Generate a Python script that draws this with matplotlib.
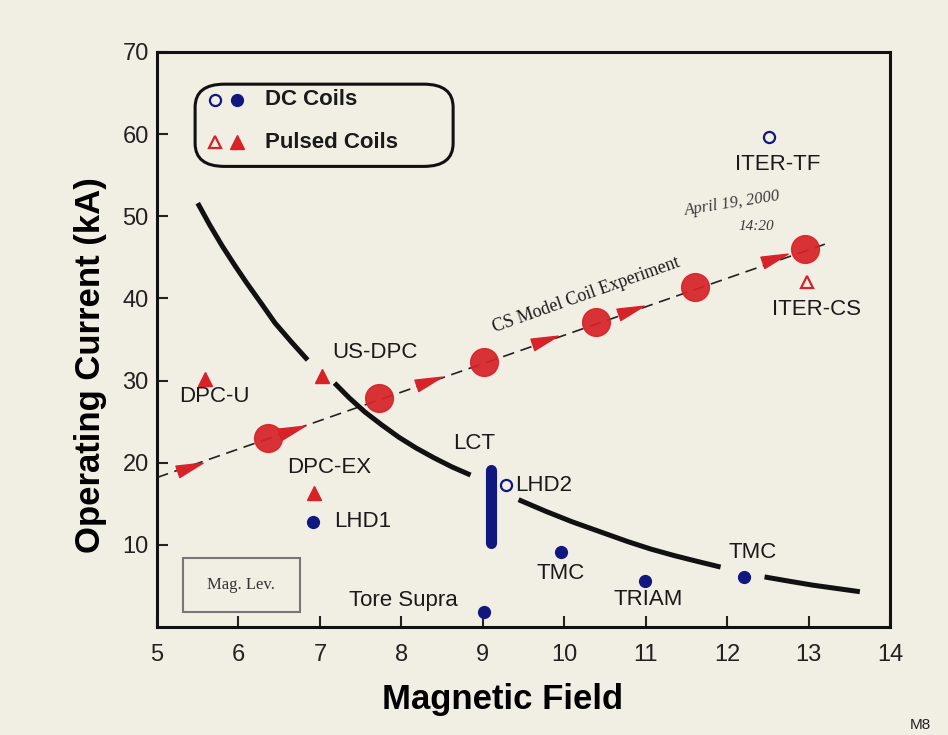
import numpy as np
import matplotlib
matplotlib.use("Agg")
import matplotlib.pyplot as plt
from matplotlib.path import Path
from matplotlib.patches import FancyBboxPatch, Rectangle

# ---------------- data ----------------
# DC coils (filled)
dc_names = ["LHD1", "Tore Supra", "TMC", "TRIAM", "TMC"]
dc_B = [6.91, 9.01, 9.96, 10.99, 12.21]
dc_I = [12.8, 1.8, 9.1, 5.6, 6.1]
# DC coils (open)
dco_names = ["LHD2", "ITER-TF"]
dco_B = [9.28, 12.51]
dco_I = [17.3, 59.7]
# LCT range (vertical bar)
lct_B = [9.10, 9.10]
lct_I = [10.2, 19.1]
# Pulsed coils (filled)
pc_names = ["DPC-U", "US-DPC", "DPC-EX"]
pc_B = [5.59, 7.02, 6.93]
pc_I = [30.2, 30.5, 16.3]
# Pulsed coils (open)
pco_names = ["ITER-CS"]
pco_B = [12.98]
pco_I = [42.0]
# CS Model Coil Experiment
cs_line_B = [5.0, 13.2]
cs_line_I = [18.2, 46.6]
cs_circ_B = [6.36, 7.73, 9.01, 10.39, 11.60, 12.96]
cs_circ_I = [23.0, 27.9, 32.3, 37.1, 41.4, 46.0]
cs_arrow_B = [5.40, 6.66, 8.34, 9.77, 10.82, 12.59]
cs_arrow_I = [19.5, 24.0, 30.0, 34.9, 38.6, 44.9]
# black limit curve (segments separated by NaN)
curve_B = [5.50, 5.65, 5.80, 5.95, 6.10, 6.28, 6.45, 6.65, 6.85, np.nan,
           7.18, 7.36, 7.55, 7.76, 7.97, 8.18, 8.40, 8.62, 8.85, np.nan,
           9.44, 9.77, 10.10, 10.44, 10.78, 11.06, 11.35, 11.63, 11.92, np.nan,
           12.46, 12.75, 13.05, 13.34, 13.63]
curve_I = [51.6, 48.9, 46.4, 44.1, 41.9, 39.4, 37.0, 34.7, 32.5, np.nan,
           29.7, 27.9, 26.2, 24.6, 23.1, 21.8, 20.6, 19.5, 18.5, np.nan,
           15.5, 14.1, 12.8, 11.6, 10.4, 9.5, 8.7, 8.0, 7.3, np.nan,
           6.1, 5.6, 5.1, 4.7, 4.3]

x_ticks = [5, 6, 7, 8, 9, 10, 11, 12, 13, 14]
y_ticks = [10, 20, 30, 40, 50, 60, 70]

# ---------------- style ----------------
BG = "#f1eee4"
BLUE = "#101880"
RED = "#d62228"
FONT = ["Liberation Sans", "DejaVu Sans"]
SERIF = ["Liberation Serif", "DejaVu Serif"]

plt.rcParams["font.family"] = FONT

fig = plt.figure(figsize=(9.48, 7.35), dpi=100, facecolor=BG)
ax = fig.add_axes([0.1656, 0.1469, 0.7732, 0.7824], facecolor=BG)
ax.set_xlim(5, 14)
ax.set_ylim(0, 70)

for s in ax.spines.values():
    s.set_linewidth(2.2)
    s.set_color("#111111")

ax.set_xticks(x_ticks)
ax.set_yticks(y_ticks)
ax.tick_params(axis="both", direction="in", length=8, width=1.5,
               labelsize=17, color="#222222", labelcolor="#222222", pad=12)
ax.tick_params(axis="y", pad=6)

ax.set_xlabel("Magnetic Field", fontsize=25, fontweight="bold")
ax.xaxis.set_label_coords(0.472, -0.098)
ax.set_ylabel("Operating Current (kA)", fontsize=25, fontweight="bold")
ax.yaxis.set_label_coords(-0.068, 0.455)

# black curve
ax.plot(curve_B, curve_I, color="#111111", lw=3.6, solid_capstyle="butt",
        solid_joinstyle="round", zorder=3)

# CS model coil experiment dashed line
ax.plot(cs_line_B, cs_line_I, color="#222222", lw=1.2, ls=(0, (7, 4)), zorder=2)

# arrow marker (rotated along the line)
ang = np.deg2rad(19.0)
base = np.array([[-1.0, -0.45], [1.0, 0.0], [-1.0, 0.45], [-1.0, -0.45]])
rot = np.array([[np.cos(ang), -np.sin(ang)], [np.sin(ang), np.cos(ang)]])
verts = base @ rot.T
arrow_marker = Path(verts, [Path.MOVETO, Path.LINETO, Path.LINETO, Path.CLOSEPOLY])
ax.plot(cs_arrow_B, cs_arrow_I, ls="none", marker=arrow_marker, ms=21,
        color=RED, mec=RED, zorder=4)
ax.plot(cs_circ_B, cs_circ_I, ls="none", marker="o", ms=20,
        color=RED, mec=RED, alpha=0.92, zorder=4)

# LCT bar
ax.plot(lct_B, lct_I, color=BLUE, lw=8, solid_capstyle="round", zorder=5)

# DC coils
ax.plot(dc_B, dc_I, ls="none", marker="o", ms=8.5, color=BLUE, zorder=6)
ax.plot(dco_B, dco_I, ls="none", marker="o", ms=8, mfc=BG, mec=BLUE, mew=1.6, zorder=6)
# pulsed coils
ax.plot(pc_B, pc_I, ls="none", marker="^", ms=10, color=RED, zorder=6)
ax.plot(pco_B, pco_I, ls="none", marker="^", ms=9, mfc=BG, mec=RED, mew=1.6, zorder=6)

# point labels
lab_kw = dict(fontsize=16, color="#1a1a1a", zorder=7)
ax.text(5.71, 28.1, "DPC-U", ha="center", va="center", **lab_kw)
ax.text(7.67, 33.4, "US-DPC", ha="center", va="center", **lab_kw)
ax.text(7.11, 19.4, "DPC-EX", ha="center", va="center", **lab_kw)
ax.text(7.18, 12.9, "LHD1", ha="left", va="center", **lab_kw)
ax.text(8.89, 22.4, "LCT", ha="center", va="center", **lab_kw)
ax.text(9.40, 17.2, "LHD2", ha="left", va="center", **lab_kw)
ax.text(9.96, 6.5, "TMC", ha="center", va="center", **lab_kw)
ax.text(11.03, 3.4, "TRIAM", ha="center", va="center", **lab_kw)
ax.text(12.31, 9.1, "TMC", ha="center", va="center", **lab_kw)
ax.text(8.03, 3.2, "Tore Supra", ha="center", va="center", **lab_kw)
ax.text(12.62, 56.3, "ITER-TF", ha="center", va="center", **lab_kw)
ax.text(13.10, 38.6, "ITER-CS", ha="center", va="center", **lab_kw)

ax.text(10.27, 40.4, "CS Model Coil Experiment", family=SERIF, fontsize=13,
        rotation=19.5, rotation_mode="anchor", ha="center", va="center",
        color="#1a1a1a", zorder=7)

# handwritten note
ax.text(12.07, 51.5, "April 19, 2000", family=SERIF, style="italic", fontsize=12,
        rotation=9, ha="center", va="center", color="#3a3a3a", zorder=7)
ax.text(12.36, 48.7, "14:20", family=SERIF, style="italic", fontsize=11,
        ha="center", va="center", color="#3a3a3a", zorder=7)

# Mag. Lev. box
ax.add_patch(Rectangle((0.035, 0.026), 0.160, 0.094, transform=ax.transAxes,
                       fill=False, ec="#777777", lw=1.5, zorder=7))
ax.text(0.115, 0.073, "Mag. Lev.", transform=ax.transAxes, family=SERIF,
        fontsize=12, ha="center", va="center", color="#333333", zorder=7)

# legend box
ax.add_patch(FancyBboxPatch((0.052, 0.801), 0.352, 0.143,
                            boxstyle="round,pad=0,rounding_size=0.04",
                            transform=ax.transAxes, fill=False, ec="#111111",
                            lw=2.2, mutation_aspect=1.0, zorder=7))
ax.plot([0.079], [0.917], transform=ax.transAxes, marker="o", ms=8, mfc=BG,
        mec=BLUE, mew=1.6, ls="none", zorder=8)
ax.plot([0.109], [0.917], transform=ax.transAxes, marker="o", ms=8.5,
        color=BLUE, ls="none", zorder=8)
ax.plot([0.079], [0.843], transform=ax.transAxes, marker="^", ms=9, mfc=BG,
        mec=RED, mew=1.6, ls="none", zorder=8)
ax.plot([0.109], [0.843], transform=ax.transAxes, marker="^", ms=10,
        color=RED, ls="none", zorder=8)
ax.text(0.147, 0.917, "DC Coils", transform=ax.transAxes, fontsize=16,
        fontweight="bold", ha="left", va="center", color="#1a1a1a", zorder=8)
ax.text(0.147, 0.843, "Pulsed Coils", transform=ax.transAxes, fontsize=16,
        fontweight="bold", ha="left", va="center", color="#1a1a1a", zorder=8)

# corner mark
fig.text(0.960, 0.004, "M8", fontsize=11, ha="left", va="bottom", color="#222222")

fig.savefig("out.png", dpi=100, facecolor=BG)
